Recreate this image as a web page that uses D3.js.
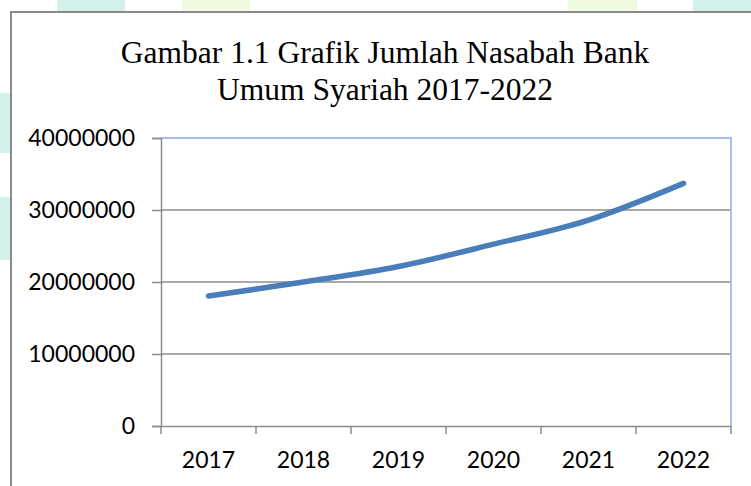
<!DOCTYPE html>
<html><head><meta charset="utf-8">
<script src="https://cdn.jsdelivr.net/npm/d3@7"></script>
<style>html,body{margin:0;padding:0;background:#fff;}svg{display:block;}</style>
</head><body>
<svg id="c" width="751" height="486"></svg>
<script>
const years = ["2017","2018","2019","2020","2021","2022"];
const nasabah = [18050000, 20000000, 22150000, 25250000, 28600000, 33700000];
const yTicks = [0, 10000000, 20000000, 30000000, 40000000];
const titleLines = ["Gambar 1.1 Grafik Jumlah Nasabah Bank", "Umum Syariah 2017-2022"];

const svg = d3.select("#c");

// faint background decorations of the page
const deco = [
  {x:57,y:0,w:68,h:11,c:"#d3f1ea"},{x:182,y:0,w:68,h:11,c:"#f0f9e0"},
  {x:568,y:0,w:69,h:11,c:"#eff9e0"},{x:693,y:0,w:58,h:11,c:"#d3f1ea"},
  {x:0,y:93,w:10,h:60,c:"#d3f1ea"},{x:0,y:197,w:10,h:63,c:"#d3f1ea"}
];
svg.selectAll("rect.deco").data(deco).join("rect").attr("class","deco")
  .attr("x",d=>d.x).attr("y",d=>d.y).attr("width",d=>d.w).attr("height",d=>d.h).attr("fill",d=>d.c);

// chart frame
svg.append("rect").attr("x",11).attr("y",12).attr("width",745).attr("height",480)
  .attr("fill","#fff").attr("stroke","#8a8a8a").attr("stroke-width",2);

// title
svg.append("text").attr("x",385).attr("y",63).attr("text-anchor","middle")
  .style("font-family","'Liberation Serif','Times New Roman',serif").style("font-size","31.5px").attr("fill","#000")
  .selectAll("tspan").data(titleLines).join("tspan")
  .attr("x",385).attr("dy",(d,i)=>i===0?0:37).text(d=>d);

const L=161, R=731, T=138, B=426;
const x = d3.scaleBand().domain(years).range([L,R]);
const y = d3.scaleLinear().domain([0,40000000]).range([B,T]);

// gridlines
svg.append("g").selectAll("line").data(yTicks.filter(v=>v>0 && v<40000000)).join("line")
  .attr("x1",L).attr("x2",R).attr("y1",d=>y(d)).attr("y2",d=>y(d))
  .attr("stroke","#8c8c8c").attr("stroke-width",1.5);

// plot area border top/right (light blue)
svg.append("path").attr("d",`M${L},${T}H${R}V${B}`).attr("fill","none")
  .attr("stroke","#a9c1e8").attr("stroke-width",2);

const font = "Lato,'Open Sans',sans-serif";
// y axis
const yAxis = svg.append("g").attr("transform",`translate(${L},0)`)
  .call(d3.axisLeft(y).tickValues(yTicks).tickSize(9).tickPadding(17).tickFormat(d3.format("d")));
yAxis.select(".domain").attr("stroke","#8c8c8c").attr("stroke-width",1.5);
yAxis.selectAll(".tick line").attr("stroke","#8c8c8c").attr("stroke-width",1.5);
yAxis.selectAll("text").style("font-family",font).style("font-size","23px").attr("fill","#000");

// x axis with ticks between categories
const xAxis = svg.append("g").attr("transform",`translate(0,${B})`)
  .call(d3.axisBottom(x).tickSize(0).tickPadding(26));
xAxis.select(".domain").attr("stroke","#8c8c8c").attr("stroke-width",1.5);
xAxis.selectAll("text").style("font-family",font).style("font-size","23px").attr("fill","#000");
const bounds = years.map(d=>x(d)).concat([x(years[years.length-1])+x.bandwidth()]);
xAxis.selectAll("line.sep").data(bounds).join("line").attr("class","sep")
  .attr("x1",d=>d).attr("x2",d=>d).attr("y1",0).attr("y2",8)
  .attr("stroke","#8c8c8c").attr("stroke-width",1.5);

// line
const line = d3.line().x((d,i)=>x(years[i])+x.bandwidth()/2).y(d=>y(d)).curve(d3.curveCatmullRom.alpha(0));
svg.append("path").datum(nasabah).attr("d",line).attr("fill","none")
  .attr("stroke","#4a7ebb").attr("stroke-width",5.5).attr("stroke-linecap","round").attr("stroke-linejoin","round");
</script>
</body></html>
